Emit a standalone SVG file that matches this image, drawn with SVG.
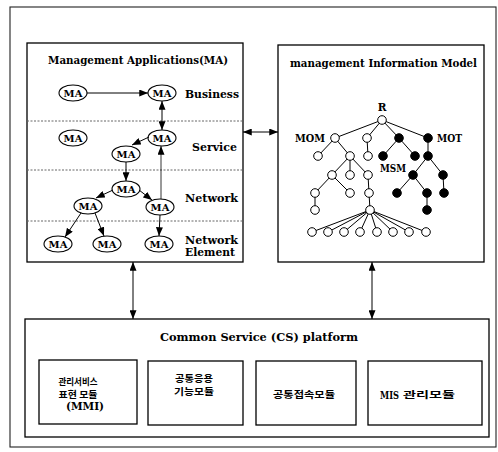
<svg xmlns="http://www.w3.org/2000/svg" width="498" height="452" viewBox="0 0 498 452">
  <style>
    .box { fill: #fff; stroke: #000; stroke-width: 1.3; }
    .frame { fill: none; stroke: #222; stroke-width: 1.1; }
    .lyr { stroke: #666; stroke-width: 1; stroke-dasharray: 2 1.5; }
    .ma { fill: #fff; stroke: #000; stroke-width: 1.1; }
    .edge { stroke: #000; stroke-width: 1; fill: none; }
    .t { font-family: "DejaVu Serif", "Liberation Serif", serif; font-weight: bold; fill: #000; }
    .k { font-family: "Noto Sans CJK KR", sans-serif; font-weight: bold; fill: #000; font-size: 9px; }
    .on { fill: #fff; stroke: #000; stroke-width: 1; }
    .off { fill: #000; stroke: #000; stroke-width: 1; }
  </style>
  <defs>
    <marker id="ah" viewBox="0 0 10 8" refX="10" refY="4" markerWidth="9" markerHeight="7" markerUnits="userSpaceOnUse" orient="auto-start-reverse">
      <path d="M0,0 L10,4 L0,8 z" fill="#000"/>
    </marker>
  </defs>

  <rect width="498" height="452" fill="#fff"/>

  <!-- outer frame -->
  <rect class="frame" x="10" y="7" width="486" height="440"/>

  <!-- Management Applications block -->
  <g id="ma-block">
    <rect class="box" x="27" y="43" width="216" height="219"/>
    <text class="t" x="48" y="64" font-size="11" textLength="180" lengthAdjust="spacingAndGlyphs">Management Applications(MA)</text>
    <line class="lyr" x1="27" y1="121" x2="243" y2="121"/>
    <line class="lyr" x1="27" y1="170" x2="243" y2="170"/>
    <line class="lyr" x1="27" y1="221" x2="243" y2="221"/>
    <text class="t" x="185" y="98" font-size="11" textLength="54" lengthAdjust="spacingAndGlyphs">Business</text>
    <text class="t" x="192" y="151" font-size="11" textLength="45" lengthAdjust="spacingAndGlyphs">Service</text>
    <text class="t" x="185" y="202" font-size="11" textLength="53" lengthAdjust="spacingAndGlyphs">Network</text>
    <text class="t" x="185" y="244" font-size="11" textLength="53" lengthAdjust="spacingAndGlyphs">Network</text>
    <text class="t" x="185" y="256" font-size="11" textLength="50" lengthAdjust="spacingAndGlyphs">Element</text>
  </g>

  <g id="ma-b1"><ellipse class="ma" cx="73" cy="93" rx="14" ry="8"/><text class="t" x="73" y="97" font-size="10" text-anchor="middle">MA</text></g>
  <g id="ma-b2"><ellipse class="ma" cx="162" cy="93" rx="14" ry="8"/><text class="t" x="162" y="97" font-size="10" text-anchor="middle">MA</text></g>
  <g id="ma-s1"><ellipse class="ma" cx="73" cy="138" rx="14" ry="8"/><text class="t" x="73" y="142" font-size="10" text-anchor="middle">MA</text></g>
  <g id="ma-s2"><ellipse class="ma" cx="162" cy="138" rx="14" ry="8"/><text class="t" x="162" y="142" font-size="10" text-anchor="middle">MA</text></g>
  <g id="ma-s3"><ellipse class="ma" cx="126" cy="154" rx="14" ry="8"/><text class="t" x="126" y="158" font-size="10" text-anchor="middle">MA</text></g>
  <g id="ma-n1"><ellipse class="ma" cx="126" cy="189" rx="14" ry="8"/><text class="t" x="126" y="193" font-size="10" text-anchor="middle">MA</text></g>
  <g id="ma-n2"><ellipse class="ma" cx="88" cy="206" rx="14" ry="8"/><text class="t" x="88" y="210" font-size="10" text-anchor="middle">MA</text></g>
  <g id="ma-n3"><ellipse class="ma" cx="160" cy="207" rx="14" ry="8"/><text class="t" x="160" y="211" font-size="10" text-anchor="middle">MA</text></g>
  <g id="ma-e1"><ellipse class="ma" cx="58" cy="244" rx="14" ry="8"/><text class="t" x="58" y="248" font-size="10" text-anchor="middle">MA</text></g>
  <g id="ma-e2"><ellipse class="ma" cx="107" cy="244" rx="14" ry="8"/><text class="t" x="107" y="248" font-size="10" text-anchor="middle">MA</text></g>
  <g id="ma-e3"><ellipse class="ma" cx="159" cy="244" rx="14" ry="8"/><text class="t" x="159" y="248" font-size="10" text-anchor="middle">MA</text></g>

  <!-- management Information Model block -->
  <g id="mim-block">
    <rect class="box" x="278" y="45" width="206" height="217"/>
    <text class="t" x="290" y="67" font-size="11" textLength="187" lengthAdjust="spacingAndGlyphs">management Information Model</text>
    <text class="t" x="382" y="111" font-size="10.5" text-anchor="middle">R</text>
    <text class="t" x="295" y="142" font-size="10.5" textLength="30" lengthAdjust="spacingAndGlyphs">MOM</text>
    <text class="t" x="437" y="142" font-size="10.5" textLength="25" lengthAdjust="spacingAndGlyphs">MOT</text>
    <text class="t" x="380" y="172" font-size="10.5" textLength="26" lengthAdjust="spacingAndGlyphs">MSM</text>
  </g>

  <!-- containment tree -->
  <g id="mim-tree">
    <g class="edge">
      <line x1="382" y1="120" x2="335" y2="138"/>
      <line x1="382" y1="120" x2="367" y2="138"/>
      <line x1="382" y1="120" x2="399" y2="138"/>
      <line x1="382" y1="120" x2="428" y2="138"/>
      <line x1="335" y1="138" x2="318" y2="156"/>
      <line x1="335" y1="138" x2="350" y2="156"/>
      <line x1="367" y1="138" x2="368" y2="156"/>
      <line x1="399" y1="138" x2="383" y2="156"/>
      <line x1="399" y1="138" x2="415" y2="156"/>
      <line x1="428" y1="138" x2="428" y2="156"/>
      <line x1="350" y1="156" x2="332" y2="175"/>
      <line x1="350" y1="156" x2="350" y2="175"/>
      <line x1="350" y1="156" x2="368" y2="175"/>
      <line x1="428" y1="156" x2="413" y2="175"/>
      <line x1="428" y1="156" x2="443" y2="175"/>
      <line x1="332" y1="175" x2="315" y2="193"/>
      <line x1="332" y1="175" x2="350" y2="193"/>
      <line x1="368" y1="175" x2="369" y2="193"/>
      <line x1="413" y1="175" x2="397" y2="193"/>
      <line x1="413" y1="175" x2="427" y2="193"/>
      <line x1="443" y1="175" x2="444" y2="193"/>
      <line x1="315" y1="193" x2="315" y2="210"/>
      <line x1="369" y1="193" x2="370" y2="210"/>
      <line x1="427" y1="193" x2="427" y2="210"/>
      <line x1="370" y1="210" x2="312" y2="232"/>
      <line x1="370" y1="210" x2="328" y2="232"/>
      <line x1="370" y1="210" x2="344" y2="232"/>
      <line x1="370" y1="210" x2="360" y2="232"/>
      <line x1="370" y1="210" x2="377" y2="232"/>
      <line x1="370" y1="210" x2="393" y2="232"/>
      <line x1="370" y1="210" x2="409" y2="232"/>
      <line x1="370" y1="210" x2="426" y2="232"/>
    </g>
    <g>
      <circle class="on" cx="382" cy="120" r="4.3"/>
      <circle class="on" cx="335" cy="138" r="4.3"/>
      <circle class="on" cx="367" cy="138" r="4.3"/>
      <circle class="off" cx="399" cy="138" r="4.3"/>
      <circle class="off" cx="428" cy="138" r="4.3"/>
      <circle class="on" cx="318" cy="156" r="4.3"/>
      <circle class="on" cx="350" cy="156" r="4.3"/>
      <circle class="on" cx="368" cy="156" r="4.3"/>
      <circle class="off" cx="383" cy="156" r="4.3"/>
      <circle class="off" cx="415" cy="156" r="4.3"/>
      <circle class="off" cx="428" cy="156" r="4.3"/>
      <circle class="on" cx="332" cy="175" r="4.3"/>
      <circle class="on" cx="350" cy="175" r="4.3"/>
      <circle class="on" cx="368" cy="175" r="4.3"/>
      <circle class="off" cx="413" cy="175" r="4.3"/>
      <circle class="off" cx="443" cy="175" r="4.3"/>
      <circle class="on" cx="315" cy="193" r="4.3"/>
      <circle class="on" cx="350" cy="193" r="4.3"/>
      <circle class="on" cx="369" cy="193" r="4.3"/>
      <circle class="off" cx="397" cy="193" r="4.3"/>
      <circle class="off" cx="427" cy="193" r="4.3"/>
      <circle class="off" cx="444" cy="193" r="4.3"/>
      <circle class="on" cx="315" cy="210" r="4.3"/>
      <circle class="on" cx="370" cy="210" r="4.3"/>
      <circle class="off" cx="427" cy="210" r="4.3"/>
      <circle class="on" cx="312" cy="232" r="4.3"/>
      <circle class="on" cx="328" cy="232" r="4.3"/>
      <circle class="on" cx="344" cy="232" r="4.3"/>
      <circle class="on" cx="360" cy="232" r="4.3"/>
      <circle class="on" cx="377" cy="232" r="4.3"/>
      <circle class="on" cx="393" cy="232" r="4.3"/>
      <circle class="on" cx="409" cy="232" r="4.3"/>
      <circle class="on" cx="426" cy="232" r="4.3"/>
    </g>
  </g>

  <!-- Common Service platform block -->
  <g id="cs-block">
    <rect class="box" x="25" y="319" width="464" height="118"/>
    <text class="t" x="160" y="341" font-size="11" textLength="198" lengthAdjust="spacingAndGlyphs">Common Service (CS) platform</text>
  </g>
  <g id="cs-mmi">
    <rect class="box" x="39" y="360" width="98" height="64"/>
    <text class="k" x="78" y="385" text-anchor="middle" textLength="39" lengthAdjust="spacingAndGlyphs">관리서비스</text>
    <text class="k" x="78" y="397.5" text-anchor="middle" textLength="39" lengthAdjust="spacingAndGlyphs">표현 모듈</text>
    <text class="t" x="85" y="410" font-size="10.5" text-anchor="middle">(MMI)</text>
  </g>
  <g id="cs-app">
    <rect class="box" x="148" y="361" width="95" height="64"/>
    <text class="k" x="194" y="382" text-anchor="middle" textLength="38" lengthAdjust="spacingAndGlyphs">공통응용</text>
    <text class="k" x="194" y="395" text-anchor="middle" textLength="40" lengthAdjust="spacingAndGlyphs">기능모듈</text>
  </g>
  <g id="cs-access">
    <rect class="box" x="256" y="361" width="100" height="64"/>
    <text class="k" x="304" y="398" text-anchor="middle" textLength="62" lengthAdjust="spacingAndGlyphs">공통접속모듈</text>
  </g>
  <g id="cs-mis">
    <rect class="box" x="368" y="361" width="114" height="64"/>
    <text class="t" x="380" y="399" font-size="10.5" textLength="19" lengthAdjust="spacingAndGlyphs">MIS</text>
    <text class="k" x="403" y="398" textLength="52" lengthAdjust="spacingAndGlyphs">관리모듈</text>
  </g>

  <!-- connectors -->
  <g id="connectors" class="edge">
    <line x1="87" y1="93" x2="148" y2="93" marker-end="url(#ah)"/>
    <line x1="162" y1="101" x2="162" y2="130" marker-start="url(#ah)" marker-end="url(#ah)"/>
    <line x1="149" y1="137" x2="132" y2="145" marker-end="url(#ah)"/>
    <line x1="126" y1="162" x2="126" y2="181" marker-end="url(#ah)"/>
    <line x1="113" y1="190" x2="96" y2="198" marker-end="url(#ah)"/>
    <line x1="139" y1="190" x2="152" y2="200" marker-end="url(#ah)"/>
    <line x1="161" y1="199" x2="161" y2="146" marker-end="url(#ah)" stroke-width="0.8"/>
    <line x1="81" y1="213" x2="65" y2="237" marker-end="url(#ah)"/>
    <line x1="95" y1="213" x2="104" y2="236" marker-end="url(#ah)"/>
    <line x1="160" y1="215" x2="159" y2="236" marker-end="url(#ah)"/>
    <line x1="243" y1="132" x2="278" y2="132" marker-start="url(#ah)" marker-end="url(#ah)"/>
    <line x1="133" y1="262" x2="133" y2="319" marker-start="url(#ah)" marker-end="url(#ah)"/>
    <line x1="372" y1="262" x2="372" y2="319" marker-start="url(#ah)" marker-end="url(#ah)"/>
  </g>
</svg>
